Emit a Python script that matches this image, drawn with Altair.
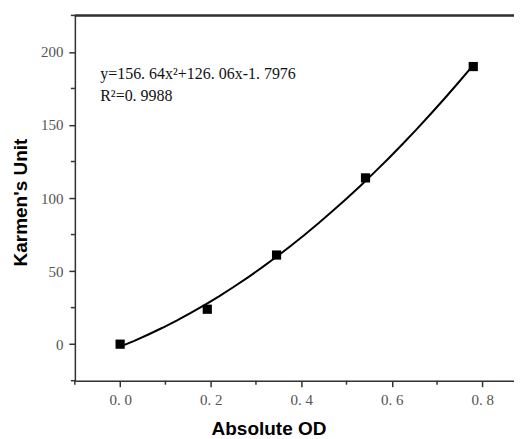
import altair as alt
import pandas as pd

# Measured data points
od = [0.0, 0.1925, 0.3455, 0.542, 0.78]
units = [0.0, 23.9, 61.0, 113.8, 190.0]

# Annotation text
eq_lines = ["y=156. 64x\u00b2+126. 06x-1. 7976", "R\u00b2=0. 9988"]
eq_x = [-0.044, -0.044]
eq_y = [181.7, 166.7]

x_major = [0.0, 0.2, 0.4, 0.6, 0.8]
x_minor = [-0.1, 0.1, 0.3, 0.5, 0.7]
y_major = [0, 50, 100, 150, 200]
y_minor = [-25, 25, 75, 125, 175, 225]

df = pd.DataFrame({"x": od, "y": units})
ann = pd.DataFrame({"x": eq_x, "y": eq_y, "t": eq_lines})
xm = pd.DataFrame({"v": x_minor})
ym = pd.DataFrame({"v": y_minor})

W, H = 440, 366
xscale = alt.Scale(domain=[-0.1, 0.87], nice=False, zero=False)
yscale = alt.Scale(domain=[-25, 225], nice=False, zero=False)

xaxis = alt.Axis(
    values=x_major,
    title="Absolute OD",
    titleFont="Liberation Sans", titleFontSize=19, titleFontWeight="bold",
    titleColor="black", titleX=194, titleY=54, titleBaseline="alphabetic",
    titleAlign="center",
    labelFont="Liberation Serif", labelFontSize=15, labelColor="#555555",
    labelPadding=6, labelOverlap=False, labelBound=False,
    labelExpr="replace(format(datum.value, '.1f'), '.', '. ')",
    tickSize=6, tickColor="#333333", tickWidth=1.5,
    domainColor="#333333", domainWidth=1.5, grid=False,
)
yaxis = alt.Axis(
    values=y_major,
    title="Karmen's Unit",
    titleFont="Liberation Sans", titleFontSize=19, titleFontWeight="bold",
    titleColor="black", titleX=-48, titleY=187, titleBaseline="alphabetic",
    titleAlign="center", titleAngle=-90,
    labelFont="Liberation Serif", labelFontSize=15, labelColor="#555555",
    labelPadding=6, labelOverlap=False, labelBound=False,
    format="d",
    tickSize=6, tickColor="#333333", tickWidth=1.5,
    domainColor="#333333", domainWidth=1.5, grid=False,
)

X = lambda f: alt.X(f, scale=xscale, axis=xaxis)
Y = lambda f: alt.Y(f, scale=yscale, axis=yaxis)

base = alt.Chart(df)

points = base.mark_square(size=85, color="black", opacity=1).encode(
    x=X("x:Q"), y=Y("y:Q"),
)

curve = base.transform_regression(
    "x", "y", method="poly", order=2, extent=[0.0, 0.78]
).mark_line(color="black", strokeWidth=2).encode(
    x=X("x:Q"), y=Y("y:Q"),
)

text = alt.Chart(ann).mark_text(
    align="left", baseline="alphabetic", font="Liberation Serif",
    fontSize=16, color="#111111"
).encode(
    x=X("x:Q"), y=Y("y:Q"), text="t:N",
)

top = alt.Chart(df).mark_rule(color="#333333", strokeWidth=1.5).encode(
    x=alt.value(0), x2=alt.value(W), y=alt.value(0)
)

xminor = alt.Chart(xm).mark_rule(color="#333333", strokeWidth=1.5).encode(
    x=X("v:Q"), y=alt.value(H), y2=alt.value(H + 4)
)
yminor = alt.Chart(ym).mark_rule(color="#333333", strokeWidth=1.5).encode(
    y=Y("v:Q"), x=alt.value(-4), x2=alt.value(0)
)

chart = alt.layer(curve, points, text, top, xminor, yminor).properties(
    width=W, height=H,
    autosize=alt.AutoSizeParams(type="none"),
    padding={"left": 67, "top": 7, "right": 0, "bottom": 58},
).configure_view(stroke=None).configure(background="white")

chart.save("out.html", embed_options={"renderer": "svg", "actions": False})
